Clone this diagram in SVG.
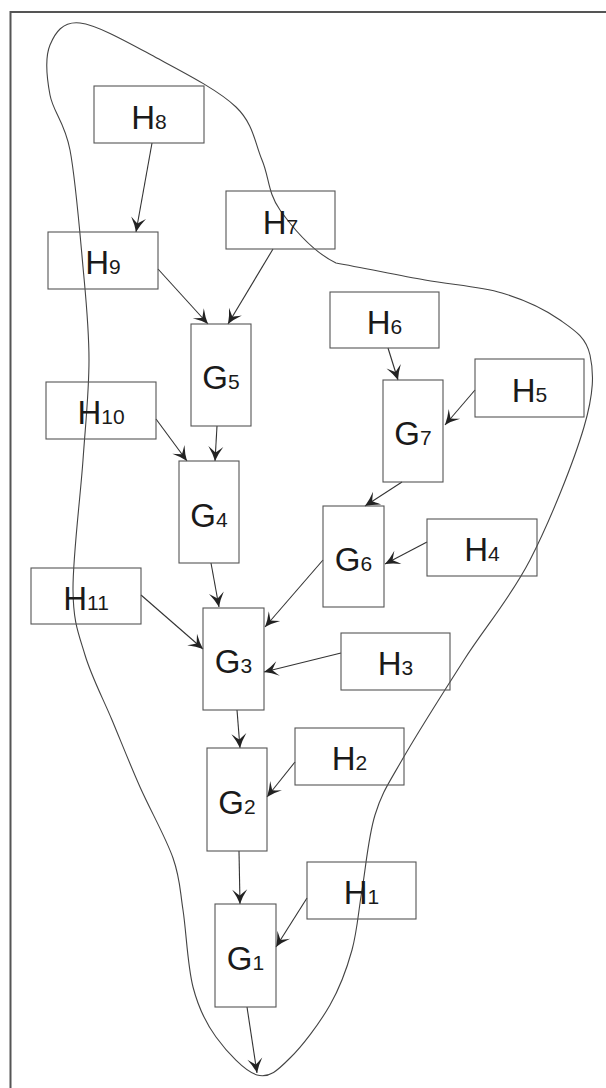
<svg xmlns="http://www.w3.org/2000/svg" width="606" height="1088" viewBox="0 0 606 1088">
<style>
.box{fill:none;stroke:#555;stroke-width:1.1}
.lbl{font-family:"Liberation Sans",Arial,sans-serif;font-size:33px;fill:#1a1a1a;text-anchor:middle}
.sub{font-size:21px}
.edge{stroke:#333;stroke-width:1.1;fill:none;marker-end:url(#ah)}
.blob{fill:none;stroke:#444;stroke-width:1.1}
</style>
<defs>
<marker id="ah" viewBox="-16 -8 17 16" refX="0" refY="0" markerWidth="17" markerHeight="16" orient="auto" markerUnits="userSpaceOnUse">
<path d="M0,0 Q-7,-2.5 -14.5,-7.5 Q-10,-2 -8.5,0 Q-10,2 -14.5,7.5 Q-7,2.5 0,0 Z" fill="#222"/>
</marker>
</defs>
<rect width="606" height="1088" fill="#fff"/>
<path d="M700,12 H10.5 V1200" fill="none" stroke="#555" stroke-width="2"/>
<path class="blob" d="M257,1075 C244.7,1071.5 226.7,1051.7 216,1037 C205.3,1022.3 198.5,1008.2 193,987 C187.5,965.8 186.3,931.5 183,910 C179.7,888.5 180.2,878.5 173,858 C165.8,837.5 150.2,810 140,787 C129.8,764 121.2,742 112,720 C102.8,698 91.5,676.7 85,655 C78.5,633.3 73.3,622.5 73,590 C72.7,557.5 80.3,498.3 83,460 C85.7,421.7 89,392.2 89,360 C89,327.8 86.2,302 83,267 C79.8,232 75.5,178.7 70,150 C64.5,121.3 53.3,112.5 50,95 C46.7,77.5 45,57 50,45 C55,33 62.5,21 80,23 C97.5,25 129,43 155,57 C181,71 218.2,89.8 236,107 C253.8,124.2 254.7,142.8 262,160 C269.3,177.2 267.7,192.8 280,210 C292.3,227.2 311.8,251.3 336,263 C363.7,268 397.3,275 425,280 C452.7,285 479.5,286.3 502,293 C524.5,299.7 545.3,309.7 560,320 C574.7,330.3 586,337.2 590,355 C594,372.8 594,392.8 584,427 C574,461.2 550,521.2 530,560 C510,598.8 485.3,626.7 464,660 C442.7,693.3 416.8,734.2 402,760 C387.2,785.8 381.7,793.3 375,815 C368.3,836.7 365.8,867.5 362,890 C358.2,912.5 357.3,930.8 352,950 C346.7,969.2 340.3,987 330,1005 C319.7,1023 302.2,1046.3 290,1058 C277.8,1070.3 269.3,1078.5 257,1075 Z"/>
<g id="connectors">
<line class="edge" x1="152" y1="143" x2="136" y2="232"/>
<line class="edge" x1="158" y1="269" x2="208" y2="324"/>
<line class="edge" x1="273" y1="249" x2="228" y2="324"/>
<line class="edge" x1="388" y1="348" x2="398" y2="380"/>
<line class="edge" x1="475" y1="390" x2="445" y2="425"/>
<line class="edge" x1="217" y1="426" x2="215" y2="461"/>
<line class="edge" x1="156" y1="419" x2="187" y2="461"/>
<line class="edge" x1="402" y1="482" x2="365" y2="506"/>
<line class="edge" x1="427" y1="542" x2="385" y2="564"/>
<line class="edge" x1="211" y1="563" x2="219" y2="607"/>
<line class="edge" x1="323" y1="560" x2="265" y2="627"/>
<line class="edge" x1="141" y1="595" x2="203" y2="649"/>
<line class="edge" x1="341" y1="653" x2="264" y2="672"/>
<line class="edge" x1="237" y1="710" x2="240" y2="748"/>
<line class="edge" x1="295" y1="762" x2="267" y2="797"/>
<line class="edge" x1="239" y1="851" x2="240" y2="904"/>
<line class="edge" x1="307" y1="898" x2="276" y2="947"/>
<line class="edge" x1="247" y1="1007" x2="257" y2="1073"/>
</g>
<g id="H8"><rect class="box" x="94" y="86" width="110" height="57"/><text class="lbl" x="149" y="129">H<tspan class="sub">8</tspan></text></g>
<g id="H9"><rect class="box" x="48" y="232" width="110" height="57"/><text class="lbl" x="103" y="274">H<tspan class="sub">9</tspan></text></g>
<g id="H7"><rect class="box" x="226" y="191" width="109" height="58"/><text class="lbl" x="280.5" y="234">H<tspan class="sub">7</tspan></text></g>
<g id="G5"><rect class="box" x="191" y="324" width="60" height="102"/><text class="lbl" x="221" y="389">G<tspan class="sub">5</tspan></text></g>
<g id="H6"><rect class="box" x="330" y="292" width="109" height="56"/><text class="lbl" x="384.5" y="334">H<tspan class="sub">6</tspan></text></g>
<g id="G7"><rect class="box" x="383" y="380" width="60" height="102"/><text class="lbl" x="413" y="445">G<tspan class="sub">7</tspan></text></g>
<g id="H5"><rect class="box" x="475" y="359" width="109" height="58"/><text class="lbl" x="529.5" y="402">H<tspan class="sub">5</tspan></text></g>
<g id="H10"><rect class="box" x="46" y="382" width="110" height="57"/><text class="lbl" x="101" y="424">H<tspan class="sub">10</tspan></text></g>
<g id="G4"><rect class="box" x="179" y="461" width="60" height="102"/><text class="lbl" x="209" y="527">G<tspan class="sub">4</tspan></text></g>
<g id="G6"><rect class="box" x="323" y="506" width="61" height="101"/><text class="lbl" x="353.5" y="571">G<tspan class="sub">6</tspan></text></g>
<g id="H4"><rect class="box" x="427" y="519" width="110" height="57"/><text class="lbl" x="482" y="561">H<tspan class="sub">4</tspan></text></g>
<g id="H11"><rect class="box" x="31" y="568" width="110" height="56"/><text class="lbl" x="86" y="610">H<tspan class="sub">11</tspan></text></g>
<g id="G3"><rect class="box" x="203" y="608" width="61" height="102"/><text class="lbl" x="233.5" y="673">G<tspan class="sub">3</tspan></text></g>
<g id="H3"><rect class="box" x="341" y="633" width="109" height="57"/><text class="lbl" x="395.5" y="675">H<tspan class="sub">3</tspan></text></g>
<g id="H2"><rect class="box" x="295" y="728" width="109" height="57"/><text class="lbl" x="349.5" y="770">H<tspan class="sub">2</tspan></text></g>
<g id="G2"><rect class="box" x="207" y="748" width="60" height="103"/><text class="lbl" x="237" y="814">G<tspan class="sub">2</tspan></text></g>
<g id="H1"><rect class="box" x="307" y="862" width="109" height="57"/><text class="lbl" x="361.5" y="904">H<tspan class="sub">1</tspan></text></g>
<g id="G1"><rect class="box" x="215" y="904" width="61" height="103"/><text class="lbl" x="245.5" y="970">G<tspan class="sub">1</tspan></text></g>
</svg>
